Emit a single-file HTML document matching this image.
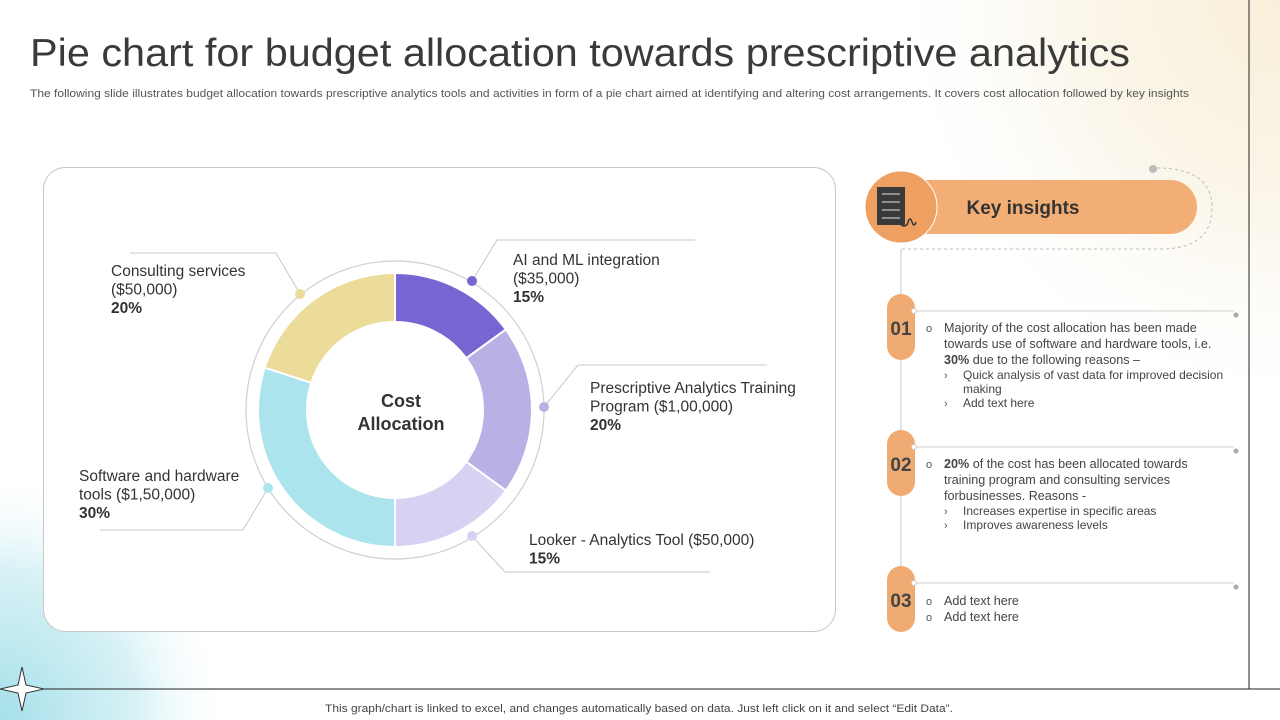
<!DOCTYPE html>
<html><head><meta charset="utf-8"><style>
html,body{margin:0;padding:0;width:1280px;height:720px;overflow:hidden;background:#fff;font-family:"Liberation Sans",sans-serif}
svg{display:block}
</style></head><body>
<svg width="1280" height="720" viewBox="0 0 1280 720">
<defs>
<radialGradient id="cy" cx="0" cy="1" r="1">
<stop offset="0" stop-color="#a6e0ea"/><stop offset="0.6" stop-color="#d8f2f6"/><stop offset="1" stop-color="#fff" stop-opacity="0"/></radialGradient>
<radialGradient id="cr" cx="1" cy="0" r="1">
<stop offset="0" stop-color="#f8efd9"/><stop offset="0.5" stop-color="#fbf6ea"/><stop offset="1" stop-color="#fff" stop-opacity="0"/></radialGradient>
</defs>
<rect x="0" y="470" width="230" height="250" fill="url(#cy)"/>
<rect x="880" y="0" width="400" height="420" fill="url(#cr)"/>
<line x1="1249" y1="0" x2="1249" y2="689" stroke="#222" stroke-width="1"/>
<line x1="22" y1="689" x2="1280" y2="689" stroke="#222" stroke-width="1"/>
<path d="M22 667 L26 685 L44 689 L26 693 L22 711 L18 693 L0 689 L18 685 Z" fill="#fff" stroke="#333"/>
<text x="30" y="66" font-size="39" fill="#3a3a3a" textLength="1100" lengthAdjust="spacingAndGlyphs">Pie chart for budget allocation towards prescriptive analytics</text>
<text x="30" y="97" font-size="11" fill="#555" textLength="1159" lengthAdjust="spacingAndGlyphs">The following slide illustrates budget allocation towards prescriptive analytics tools and activities in form of a pie chart aimed at identifying and altering cost arrangements. It covers cost allocation followed by key insights</text>

<rect x="43.5" y="167.5" width="792" height="464" rx="22" fill="#fff" stroke="#c8c8c8"/>
<circle cx="395" cy="410" r="149" fill="none" stroke="#d0d0d0" stroke-width="1.2"/>
<g id="donut"></g>
<text x="401" y="407" font-size="18" font-weight="bold" fill="#333" text-anchor="middle">Cost</text>
<text x="401" y="430" font-size="18" font-weight="bold" fill="#333" text-anchor="middle">Allocation</text>
<g id="labels" font-size="15.5" fill="#333"></g>

<circle cx="1153" cy="169" r="4" fill="#bbb"/>
<path d="M1157 168 Q1212 168 1212 208 Q1212 249 1160 249 L902 249" fill="none" stroke="#bbb" stroke-dasharray="3,3"/>
<line x1="901" y1="249" x2="901" y2="630" stroke="#c8c8c8"/>
<rect x="901" y="180" width="296" height="54" rx="27" fill="#f2ae74"/>
<circle cx="901" cy="207" r="36" fill="#ee9f62" stroke="#fff" stroke-width="1"/>
<rect x="877" y="187" width="28" height="38" fill="#3a3a3a"/>
<g stroke="#aaa" stroke-width="1.5"><line x1="882" y1="194" x2="900" y2="194"/><line x1="882" y1="202" x2="900" y2="202"/><line x1="882" y1="210" x2="900" y2="210"/><line x1="882" y1="218" x2="900" y2="218"/></g>
<path d="M900 222 a4 4 0 1 0 8 0 q2 -6 4 0 q2 6 4 0" fill="none" stroke="#333" stroke-width="1.5"/>
<text x="1023" y="214" font-size="19" font-weight="bold" fill="#333" text-anchor="middle">Key insights</text>
<g id="insights"></g>

<text x="325" y="712" font-size="11" fill="#444" textLength="628" lengthAdjust="spacingAndGlyphs">This graph/chart is linked to excel,  and changes automatically based on data. Just left click on it and select “Edit Data”.</text>
</svg>
<script>
const categories = ["AI and ML integration","Prescriptive Analytics Training Program","Looker - Analytics Tool","Software and hardware tools","Consulting services"];
const shares = [15, 20, 15, 30, 20];
const colors = ["#7566d1","#b9b1e6","#d7d2f1","#abe4ec","#ecdc9a"];
const NS="http://www.w3.org/2000/svg";
const cx=395, cy=410, R=137, r=88;
const total=shares.reduce((a,b)=>a+b,0);
function pt(a,rad){return [cx+rad*Math.sin(a), cy-rad*Math.cos(a)];}
const g=document.getElementById('donut');
let acc=0;
shares.forEach((v,i)=>{
  const a0=acc/total*2*Math.PI, a1=(acc+v)/total*2*Math.PI; acc+=v;
  const large=(a1-a0)>Math.PI?1:0;
  const p0=pt(a0,R),p1=pt(a1,R),q1=pt(a1,r),q0=pt(a0,r);
  const p=document.createElementNS(NS,'path');
  p.setAttribute('d',`M${p0} A${R} ${R} 0 ${large} 1 ${p1} L${q1} A${r} ${r} 0 ${large} 0 ${q0} Z`);
  p.setAttribute('fill',colors[i]);p.setAttribute('stroke','#fff');p.setAttribute('stroke-width','2');
  
  
  g.appendChild(p);
});
const L=document.getElementById('labels');
function add(tag,attrs,txt){const e=document.createElementNS(NS,tag);for(const k in attrs)e.setAttribute(k,attrs[k]);if(txt)e.textContent=txt;L.appendChild(e);return e;}
const lab=[
 {lines:["AI and ML integration","($35,000)"],pct:"15%",x:513,y:260,line:"M695 240 L497 240 L472 281",dot:[472,281],c:"#7566d1"},
 {lines:["Prescriptive Analytics Training","Program ($1,00,000)"],pct:"20%",x:590,y:388,line:"M767 365 L578 365 L544 407",dot:[544,407],c:"#b9b1e6"},
 {lines:["Looker - Analytics Tool ($50,000)"],pct:"15%",x:529,y:540,line:"M710 572 L505 572 L472 536",dot:[472,536],c:"#d7d2f1"},
 {lines:["Software and hardware","tools  ($1,50,000)"],pct:"30%",x:79,y:476,line:"M100 530 L243 530 L268 488",dot:[268,488],c:"#abe4ec"},
 {lines:["Consulting services","($50,000)"],pct:"20%",x:111,y:271,line:"M130 253 L276 253 L300 294",dot:[300,294],c:"#ecdc9a"}
];
lab.forEach((o,i)=>{
  const pl=add('path',{d:o.line,fill:'none',stroke:'#c8c8c8'});
  
  
  const d=add('circle',{cx:o.dot[0],cy:o.dot[1],r:5,fill:o.c});
  
  
  o.lines.forEach((t,j)=>{const e=add('text',{x:o.x,y:o.y+5+j*18.5},t);
    
    });
  const pe=add('text',{x:o.x,y:o.y+5+o.lines.length*18.5,'font-weight':'bold'},o.pct);
  
  
});
const I=document.getElementById('insights');
function addI(tag,attrs,txt){const e=document.createElementNS(NS,tag);for(const k in attrs)e.setAttribute(k,attrs[k]);if(txt!==undefined)e.innerHTML=txt;I.appendChild(e);return e;}
const blocks=[
 {n:"01",top:294,items:[["o","Majority of the cost allocation has been made",328],["","towards use of software and hardware  tools, i.e.",344],["","<tspan font-weight='bold'>30%</tspan>  due to the following  reasons –",360],["›s","Quick analysis of vast data for improved decision",375],["","making",389,1],["›s","Add text here",403]]},
 {n:"02",top:430,items:[["o","<tspan font-weight='bold'>20%</tspan>  of the cost has been allocated towards",464],["","training program  and consulting services",480],["","forbusinesses.  Reasons -",496],["›s","Increases expertise in specific areas",511],["›s","Improves awareness levels",525]]},
 {n:"03",top:566,items:[["o","Add text here",601],["o","Add text here",617]]}
];
blocks.forEach((b,i)=>{
  const ly=b.top+17;
  addI('line',{x1:915,y1:ly,x2:1234,y2:ly,stroke:'#d0d0d0'});
  addI('circle',{cx:1236,cy:ly+4,r:2.5,fill:'#aaa'});
  const pill=addI('rect',{x:887,y:b.top,width:28,height:66,rx:14,fill:'#f0ab72'});
  
  
  addI('circle',{cx:914,cy:ly,r:2.5,fill:'#fff',stroke:'#ccc'});
  const num=addI('text',{x:901,y:b.top+41,'font-size':19,'font-weight':'bold',fill:'#444','text-anchor':'middle'},b.n);
  
  
  b.items.forEach(it=>{
    const sub=it[0]==="›s"||it[3];
    if(it[0]==="o") addI('text',{x:926,y:it[2]+4,'font-size':11,fill:'#555'},'o');
    if(it[0]==="›s") addI('text',{x:944,y:it[2]+4,'font-size':11,fill:'#555'},'›');
    const t=addI('text',{x:sub?963:944,y:it[2]+4,'font-size':sub?12:12.6,fill:'#444'},it[1]);
    
    
  });
});
</script>
</body></html>
